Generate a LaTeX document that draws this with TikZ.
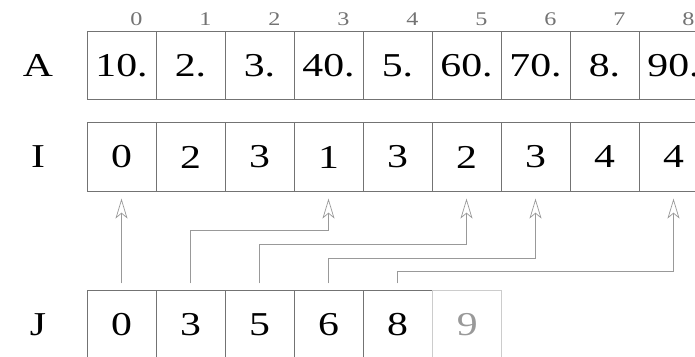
\documentclass[tikz,border=0pt]{standalone}
\usepackage{fontspec}
\setmainfont{Liberation Serif}[FakeStretch=1.25]
\usepackage{tikz}
\usetikzlibrary{arrows.meta, positioning, calc}

\begin{document}
\begin{tikzpicture}[
        cell/.style={rectangle, draw=black!55, minimum width=1.38cm, minimum height=1.37cm, inner sep=0pt, font={\fontsize{19}{21}\selectfont}},
        ghost/.style={cell, draw=black!20, text=black!40},
        rowlabel/.style={font={\fontsize{19}{21}\selectfont}},
        index/.style={font={\fontsize{11}{13}\selectfont}, text=black!55},
        link/.style={black!40, thin, shorten <=0.14cm, shorten >=0.14cm, -{Stealth[open, length=0.4cm, width=0.24cm, inset=0.1cm]}}
    ]
        \clip (0,0) rectangle (13.9,7.12);

        % Row labels
        \node (labA) [rowlabel] at (0.76,5.81) {A};
        \node (labI) [rowlabel] at (0.76,3.98) {I};
        \node (labJ) [rowlabel] at (0.76,0.62) {J};

        % Values, column indices and row pointers
        \foreach \v [count=\k from 0] in {10.,2.,3.,40.,5.,60.,70.,8.,90.}
            \node (a\k) [cell] at (2.43+1.38*\k,5.81) {\v};
        \foreach \v [count=\k from 0] in {0,2,3,1,3,2,3,4,4}
            \node (i\k) [cell] at (2.43+1.38*\k,3.98) {\v};
        \foreach \k in {0,...,8}
            \node (n\k) [index] at ($(a\k.north)+(0.3,0.24)$) {\k};
        \foreach \v [count=\k from 0] in {0,3,5,6,8}
            \node (j\k) [cell] at (2.43+1.38*\k,0.62) {\v};
        \node (j5) [ghost, right=0pt of j4] {9};

        % Pointers from J into I
        \draw [link] (j0.north) -- (i0.south);
        \draw [link] (j1.north) -- (j1.north |- 0,2.52) -| (i3.south);
        \draw [link] (j2.north) -- (j2.north |- 0,2.24) -| (i5.south);
        \draw [link] (j3.north) -- (j3.north |- 0,1.96) -| (i6.south);
        \draw [link] (j4.north) -- (j4.north |- 0,1.70) -| (i8.south);

    \end{tikzpicture}
\end{document}
